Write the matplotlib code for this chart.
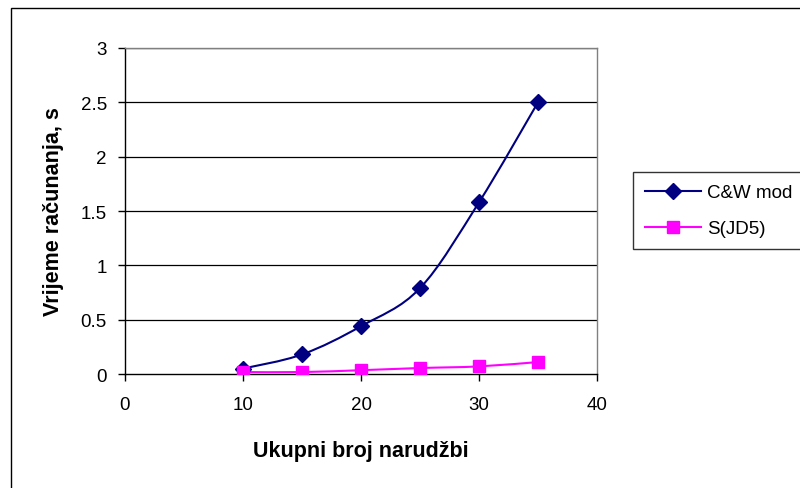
import numpy as np
import matplotlib.pyplot as plt
from matplotlib.path import Path
from matplotlib.patches import PathPatch, Rectangle
from matplotlib.lines import Line2D

plt.rcParams["font.family"] = ["Liberation Sans", "DejaVu Sans"]

orders = [10, 15, 20, 25, 30, 35]
cw_mod = [0.05, 0.18, 0.44, 0.79, 1.58, 2.5]
s_jd5 = [0.018, 0.018, 0.035, 0.055, 0.07, 0.11]

CW_COLOR = "#000080"
S_COLOR = "#ff00ff"


def smooth_path(x, y, t=1 / 6):
    # Excel-style smoothed line: cubic Bezier segments through the points
    x = np.asarray(x, float)
    y = np.asarray(y, float)
    verts = [(x[0], y[0])]
    codes = [Path.MOVETO]
    n = len(x)
    for i in range(n - 1):
        p0 = (x[max(i - 1, 0)], y[max(i - 1, 0)])
        p1 = (x[i], y[i])
        p2 = (x[i + 1], y[i + 1])
        p3 = (x[min(i + 2, n - 1)], y[min(i + 2, n - 1)])
        c1 = (p1[0] + (p2[0] - p0[0]) * t, p1[1] + (p2[1] - p0[1]) * t)
        c2 = (p2[0] - (p3[0] - p1[0]) * t, p2[1] - (p3[1] - p1[1]) * t)
        verts += [c1, c2, p2]
        codes += [Path.CURVE4] * 3
    return Path(verts, codes)


fig = plt.figure(figsize=(8, 4.89), dpi=100)
ax = fig.add_axes([0.15625, 0.2331, 0.59, 0.6667])

# outer chart frame
fig.patches.append(
    Rectangle((11 / 800, -0.01), 1.0, 1 - 9 / 489 + 0.01, transform=fig.transFigure,
              fill=False, ec="black", lw=1.0)
)

for yv in np.arange(0.5, 3.01, 0.5):
    ax.axhline(yv, c="black", lw=0.9, zorder=1)

ax.add_patch(PathPatch(smooth_path(orders, cw_mod), fc="none", ec=CW_COLOR, lw=1.5, zorder=3))
ax.add_patch(PathPatch(smooth_path(orders, s_jd5), fc="none", ec=S_COLOR, lw=1.5, zorder=3))
ax.plot(orders, cw_mod, ls="none", marker="D", ms=8, c=CW_COLOR, zorder=4)
ax.plot(orders, s_jd5, ls="none", marker="s", ms=9, c=S_COLOR, zorder=4)

ax.set_xlim(0, 40)
ax.set_ylim(0, 3)
ax.set_xticks([0, 10, 20, 30, 40])
ax.set_yticks([0, 0.5, 1, 1.5, 2, 2.5, 3])
ax.set_yticklabels(["0", "0.5", "1", "1.5", "2", "2.5", "3"])
ax.tick_params(labelsize=13.5, length=5, width=1, direction="out")
ax.tick_params(axis="x", pad=11)
ax.tick_params(axis="y", pad=8)

for side in ["top", "right"]:
    ax.spines[side].set_color("#808080")
for side in ["left", "bottom"]:
    ax.spines[side].set_color("black")
for sp in ax.spines.values():
    sp.set_linewidth(1.0)

ax.set_xlabel("Ukupni broj narudžbi", fontsize=15.5, fontweight="bold", labelpad=19)
ax.set_ylabel("Vrijeme računanja, s", fontsize=15.5, fontweight="bold", labelpad=12)

handles = [
    Line2D([], [], c=CW_COLOR, lw=1.5, marker="D", ms=8),
    Line2D([], [], c=S_COLOR, lw=1.5, marker="s", ms=9),
]
leg = fig.legend(handles, ["C&W mod", "S(JD5)"], loc="upper left",
                 bbox_to_anchor=(633 / 800, 1 - 173 / 489), fontsize=13.5,
                 frameon=True, fancybox=False, edgecolor="black",
                 handlelength=3.0, handletextpad=0.3, borderpad=0.65,
                 labelspacing=1.0, borderaxespad=0)
leg.get_frame().set_linewidth(1.0)

fig.savefig("out.png", dpi=100)
